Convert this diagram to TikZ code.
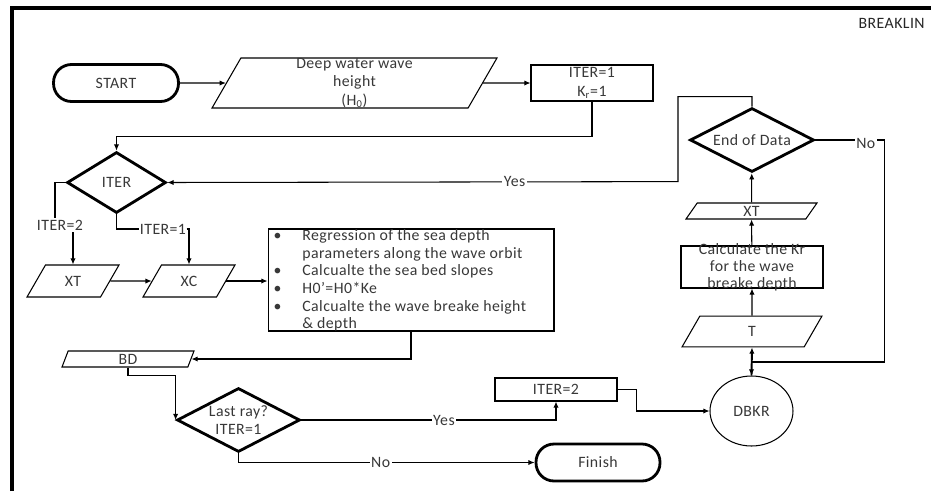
\documentclass[tikz,border=0pt]{standalone}
\usepackage{fontspec}
\setmainfont{Carlito}[LetterSpace=2.7]
\usetikzlibrary{positioning, arrows.meta, shapes.geometric}

\begin{document}
\begin{tikzpicture}[
    x=0.02cm, y=-0.02cm,
    >={Latex[length=3.5pt,width=3pt]},
    line width=0.6pt,
    every node/.style={font=\fontsize{9}{10.5}\selectfont, text=black!78},
    term/.style={draw, rectangle, rounded corners=0.36cm, line width=1.6pt, inner sep=0pt},
    dec/.style={draw, diamond, shape aspect=2, line width=1.6pt, inner sep=0pt},
    proc/.style={draw, rectangle, inner sep=0pt},
    io/.style={draw, trapezium, trapezium left angle=60, trapezium right angle=120,
               trapezium stretches body, inner xsep=1pt, inner ysep=0pt},
    lab/.style={fill=white, inner sep=0.8pt}
]

    % --- Moldura ---
    \useasboundingbox (0,0) rectangle (931,491);
    \draw[line width=1.8pt] (12,491) -- (12,8) -- (931,8);
    \node[anchor=east, text=black!85] (title) at (931,23) {BREAKLIN};

    % --- Entrada ---
    \node[term, minimum width=2.5cm, minimum height=0.74cm] (start) at (116,83) {START};
    \node[io, text height=1cm, text depth=0pt, minimum width=5.7cm] (h0) at (354.5,83) {};
    \node[align=center, font=\fontsize{9}{10.8}\selectfont] at (h0) {Deep water wave\\height\\(H\textsubscript{0})};
    \node[proc, minimum width=2.44cm, minimum height=0.72cm, align=center] (init) at (592,83) {ITER=1\\K\textsubscript{r}=1};

    % --- Lado esquerdo ---
    \node[dec, minimum width=1.98cm, minimum height=1.22cm] (iter) at (116.5,182.5) {ITER};
    \node[io, text height=11.95pt, text depth=6.25pt, minimum width=1.84cm] (xtL) at (73,281) {XT};
    \node[io, text height=11.95pt, text depth=6.25pt, minimum width=1.84cm] (xc) at (189,281) {XC};
    \node[proc, minimum width=5.72cm, minimum height=2.04cm] (orbit) at (411,280) {};
    \node[anchor=north west, inner sep=0pt, font=\fontsize{9}{10}\selectfont] (steps) at (273,228) {%
        \begin{tabular}{@{}l@{\hspace{0.42cm}}l@{}}
            \textbullet & Regression of the sea depth\\
                        & parameters along the wave orbit\\
            \textbullet & Calcualte the sea bed slopes\\
            \textbullet & H0'=H0*Ke\\
            \textbullet & Calcualte the wave breake height\\
                        & \& depth
        \end{tabular}};
    \node[io, trapezium left angle=69, trapezium right angle=111,
          text height=7.4pt, text depth=1.7pt, minimum width=2.64cm] (bd) at (128,359) {BD};
    \node[dec, minimum width=2.46cm, minimum height=1.28cm, align=center,
          font=\fontsize{9}{10}\selectfont] (ray) at (238.5,420) {Last ray?\\ITER=1};
    \node[proc, minimum width=2.44cm, minimum height=0.46cm] (iter2) at (556,389.5) {ITER=2};
    \node[term, minimum width=2.48cm, minimum height=0.74cm] (finish) at (598,462.5) {Finish};

    % --- Lado direito ---
    \node[draw, ellipse, minimum width=1.66cm, minimum height=1.4cm] (dbkr) at (751.5,411) {DBKR};
    \node[io, text height=11.65pt, text depth=5.95pt, minimum width=2.8cm] (t) at (752,331.5) {T};
    \node[proc, minimum width=2.84cm, minimum height=0.84cm] (kr) at (752,267) {};
    \node[align=center, font=\fontsize{9}{9.8}\selectfont] at (kr) {Calculate the Kr\\for the wave\\breake depth};
    \node[io, trapezium left angle=55, trapezium right angle=125,
          text height=7.4pt, text depth=1.7pt, minimum width=2.62cm] (xtR) at (751.5,211) {XT};
    \node[dec, minimum width=2.48cm, minimum height=1.28cm] (eod) at (752,140) {End of Data};

    % --- Conexoes ---
    \draw[->] (start) -- (h0);
    \draw[->] (h0) -- (init);
    \draw[->] (init.south) -- ++(0,35) -| (iter.north);

    \draw[->] (eod.north) -- ++(0,-10) -| ++(-74,85) -- node[lab, pos=0.32] {Yes} (iter.east);
    \draw[->] (eod.east) -- node[lab, pos=0.73, yshift=-0.06cm] {No} ++(69,0) -- ++(0,222) -| (dbkr.north);
    \draw[->, line width=1.1pt] (dbkr.north) -- (t.south);
    \draw[->] (t) -- (kr);
    \draw[->] (kr) -- (xtR);
    \draw[->] (xtR) -- (eod);

    % ITER=2 / ITER=1
    \node[lab] (it2) at (60,225) {ITER=2};
    \draw (iter.west) -| ([xshift=-0.1cm]it2.north);
    \draw[->] (it2.south -| xtL.north) -- (xtL.north);
    \node[lab, inner sep=0pt] (it1) at (163,229) {ITER=1};
    \draw (iter.south) |- (it1.west);
    \draw[->] (it1.east) -| (xc.north);

    \draw[->] (xtL) -- (xc);
    \draw[->] (xc.east) -- (xc.east -| orbit.west);
    \draw[->] (orbit.south) |- (bd.east);
    \draw[->] (bd.south) -- ++(0,8) -| (ray.west);

    % Saidas
    \draw[->] (ray.east) -| node[lab, pos=0.28] {Yes} (iter2.south);
    \draw[->] (iter2.east) -- ++(19,0) |- (dbkr.west);
    \draw[->] (ray.south) |- node[lab, pos=0.74] {No} (finish.west);

\end{tikzpicture}
\end{document}
